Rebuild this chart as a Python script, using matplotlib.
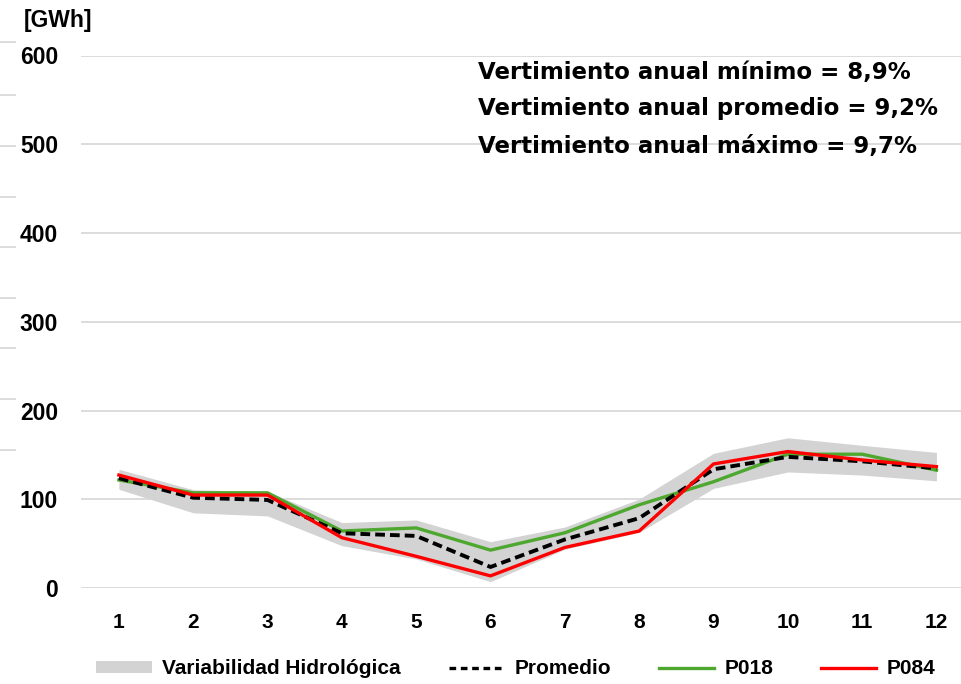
import matplotlib
matplotlib.use("Agg")
import matplotlib.pyplot as plt
from matplotlib.lines import Line2D
from matplotlib.patches import Patch

months = list(range(1, 13))
promedio = [124, 102, 99.5, 62, 59, 24, 55, 79, 134, 148, 143, 135]
p018 = [122, 107.5, 107.5, 64.5, 68, 43, 62.5, 94, 120, 151, 151, 133]
p084 = [127.5, 105, 105, 57, 36, 14, 46, 64.5, 140, 154, 144.5, 137]
band_low = [111.5, 85, 81.5, 48, 33, 7.5, 44, 63, 112.5, 131, 127.5, 121]
band_high = [134, 111, 109, 74, 77, 52.5, 69, 100.5, 152, 169.5, 161, 153]
y_ticks = [0, 100, 200, 300, 400, 500, 600]
notes = ["Vertimiento anual mínimo = 8,9%",
         "Vertimiento anual promedio = 9,2%",
         "Vertimiento anual máximo = 9,7%"]

plt.rcParams["font.family"] = ["Liberation Sans", "DejaVu Sans"]
plt.rcParams["font.weight"] = "bold"

DASH = (0, (2.5, 1.3))

fig = plt.figure(figsize=(9.61, 6.84), dpi=100)
ax = fig.add_axes([81 / 961, 1 - 588.3 / 684, 880 / 961, 532.8 / 684])

ax.fill_between(months, band_low, band_high, color="#d3d3d3", linewidth=0, zorder=1)
ax.plot(months, promedio, color="black", linestyle=DASH, linewidth=2.8, zorder=3)
ax.plot(months, p018, color="#4ea72e", linewidth=2.4, zorder=2)
ax.plot(months, p084, color="#ff0000", linewidth=2.4, zorder=4)

ax.set_xlim(0.49, 12.33)
ax.set_ylim(0, 600)
ax.set_yticks(y_ticks)
ax.set_xticks(months)
ax.grid(axis="y", color="#d9d9d9", linewidth=1.3, zorder=0)
ax.set_axisbelow(True)
for s in ax.spines.values():
    s.set_visible(False)
ax.tick_params(length=0)
ax.tick_params(axis="y", pad=16.5, labelsize=16.5)
ax.tick_params(axis="x", pad=18, labelsize=15)

fig.text(24 / 961, 1 - 21 / 684, "[GWh]", fontsize=16.5, fontweight="bold", va="center")

for i, t in enumerate(notes):
    fig.text(478 / 961, 1 - (72 + 37 * i) / 684, t, fontsize=16.5, fontweight="bold",
             family="DejaVu Sans", va="center", ha="left")

# remnant gridlines at the left edge
for yy in [42, 95, 146, 197, 247, 298, 348, 399, 450]:
    fig.add_artist(Line2D([0, 15 / 961], [1 - yy / 684] * 2, color="#d9d9d9", linewidth=1.3))

handles = [
    Patch(facecolor="#d3d3d3", edgecolor="none"),
    Line2D([], [], color="black", linestyle=(0, (2.0, 1.4)), linewidth=2.4),
    Line2D([], [], color="#4ea72e", linewidth=2.4),
    Line2D([], [], color="#ff0000", linewidth=2.4),
]
labels = ["Variabilidad Hidrológica", "Promedio", "P018", "P084"]
fig.legend(handles, labels, loc="center", bbox_to_anchor=(516 / 961, 1 - 669 / 684),
           ncol=4, frameon=False, fontsize=15, handlelength=2.65, columnspacing=2.3,
           handletextpad=0.5, handleheight=0.5)

fig.savefig("out.png", dpi=100)
